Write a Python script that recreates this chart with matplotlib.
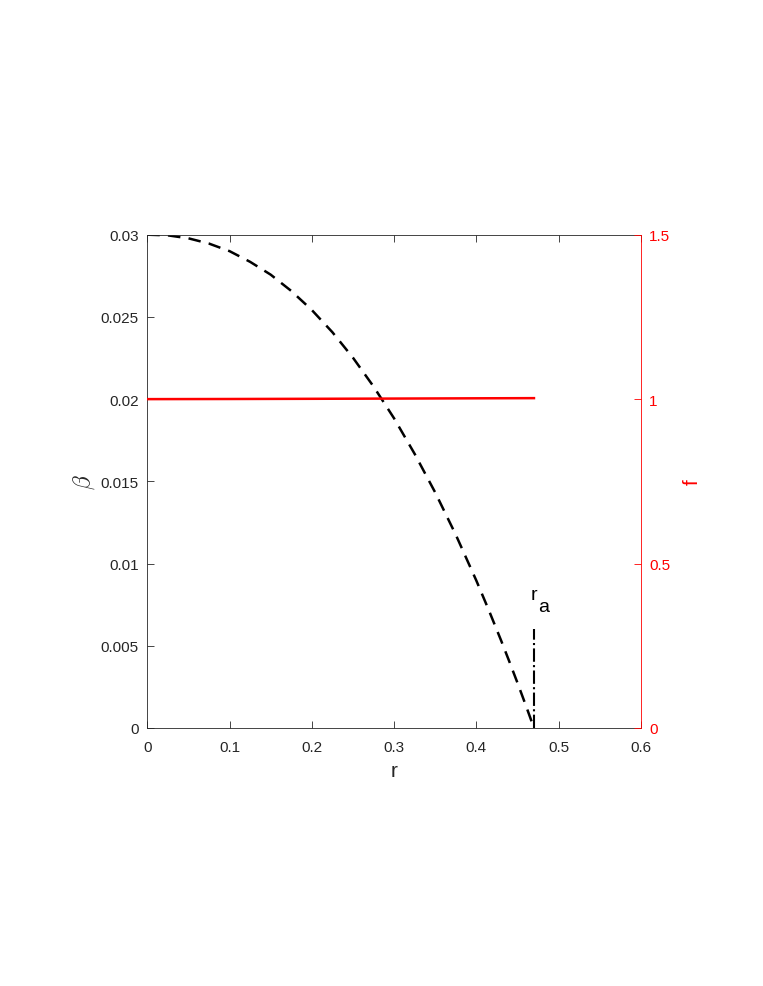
import matplotlib.pyplot as plt

plt.rcParams['font.family'] = ['Liberation Sans', 'DejaVu Sans']
plt.rcParams['mathtext.fontset'] = 'cm'

# beta(r)
r = [0, 0.025, 0.05, 0.075, 0.1, 0.125, 0.15, 0.175, 0.2, 0.225, 0.25, 0.275,
     0.3, 0.325, 0.35, 0.375, 0.4, 0.415, 0.43, 0.44, 0.45, 0.46, 0.47]
beta = [0.03, 0.02996, 0.02978, 0.02946, 0.0290, 0.02835, 0.02757, 0.02658,
        0.02542, 0.02407, 0.02252, 0.02077, 0.01883, 0.01667, 0.01432,
        0.01175, 0.00896, 0.00718, 0.00533, 0.00405, 0.00274, 0.00139, 0.0]

# f(r), red line on the right axis
r_f = [0, 0.1, 0.2, 0.3, 0.4, 0.47]
f = [1.0, 1.0004, 1.001, 1.0017, 1.0025, 1.003]

r_a = 0.47
ra_top = 0.006

fig = plt.figure(figsize=(7.63, 9.87), dpi=100)
ax = fig.add_axes([0.193, 0.2614, 0.647, 0.4998])
ax2 = ax.twinx()

ax.plot(r, beta, 'k--', lw=1.8, dashes=(5, 3.3))
ax.plot([r_a, r_a], [0, ra_top], 'k-.', lw=1.5)
# r_a label: subscript drawn at the same size, as in the reference
ax.text(0.4655, 0.00785, 'r', fontsize=14, va='baseline', ha='left')
ax.text(0.4745, 0.00712, 'a', fontsize=14, va='baseline', ha='left')

ax2.plot(r_f, f, color='red', lw=1.8)

ax.set_xlim(0, 0.6)
ax.set_ylim(0, 0.03)
ax2.set_ylim(0, 1.5)
ax.set_xticks([0, 0.1, 0.2, 0.3, 0.4, 0.5, 0.6])
ax.set_xticklabels(['0', '0.1', '0.2', '0.3', '0.4', '0.5', '0.6'])
ax.set_yticks([0, 0.005, 0.01, 0.015, 0.02, 0.025, 0.03])
ax.set_yticklabels(['0', '0.005', '0.01', '0.015', '0.02', '0.025', '0.03'])
ax2.set_yticks([0, 0.5, 1, 1.5])
ax2.set_yticklabels(['0', '0.5', '1', '1.5'])

dark = '#262626'
ax.tick_params(axis='x', direction='in', top=True, length=5, width=0.6,
               colors=dark, labelsize=11, pad=9, labelcolor=dark)
ax.tick_params(axis='y', direction='in', right=False, length=5, width=0.6,
               colors=dark, labelsize=11, pad=6)
ax2.tick_params(axis='y', direction='in', length=5, width=0.6,
                colors='red', labelsize=11, pad=6)

for s in ['left', 'bottom', 'top']:
    ax.spines[s].set_color(dark)
    ax.spines[s].set_linewidth(0.6)
ax2.spines['right'].set_color('red')
ax2.spines['right'].set_linewidth(0.6)
for s in ['left', 'bottom', 'top']:
    ax2.spines[s].set_visible(False)
ax.spines['right'].set_visible(False)

ax.set_xlabel('r', fontsize=15, color=dark, labelpad=5)
ax.set_ylabel(r'$\beta$', fontsize=17, color=dark, labelpad=3)
ax2.set_ylabel('f', fontsize=15, color='red', labelpad=9)

fig.savefig('out.png', dpi=100)
